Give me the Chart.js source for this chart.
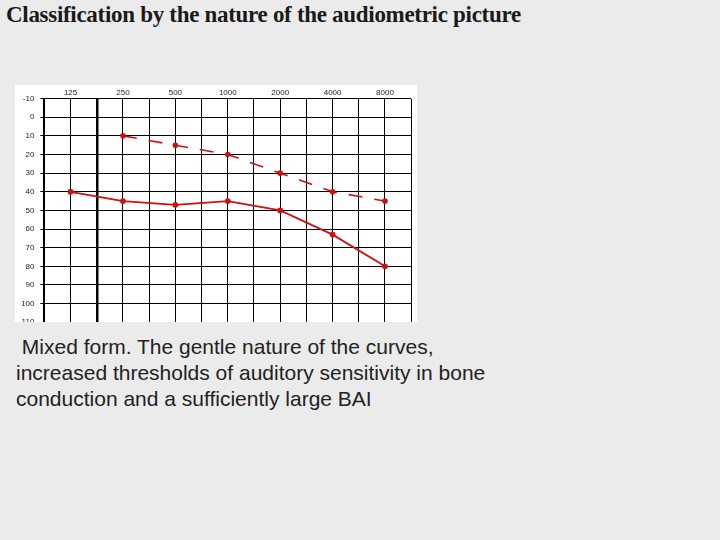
<!DOCTYPE html>
<html><head><meta charset="utf-8">
<script src="https://cdn.jsdelivr.net/npm/chart.js@4/dist/chart.umd.min.js"></script>
<style>
body{margin:0;width:720px;height:540px;background:#ebebeb;position:relative;overflow:hidden}
#t{position:absolute;left:6px;top:2px;font-family:"Liberation Serif",serif;font-weight:bold;font-size:23px;color:#1a1a1a;letter-spacing:-0.3px}
#clip{position:absolute;left:15px;top:85px;width:402px;height:237px;background:#fff;overflow:hidden}
#c{position:absolute;left:0;top:0;width:402px;height:248px}
#p{position:absolute;left:16px;top:334px;font-family:"Liberation Sans",Arial,sans-serif;font-size:21px;color:#222;line-height:26px}
</style></head><body>
<div id="t">Classification by the nature of the audiometric picture</div>
<div id="clip"><div id="c"><canvas id="cv"></canvas></div></div>
<div id="p">&nbsp;Mixed form. The gentle nature of the curves,<br>increased thresholds of auditory sensitivity in bone<br>conduction and a sufficiently large BAI</div>
<script>
const freqs=["125","250","500","1000","2000","4000","8000"];
const airValues=[40,45,47,45,50,63,80];
const boneValues=[null,10,15,20,30,40,45];
const yTicks=[-10,0,10,20,30,40,50,60,70,80,90,100,110];
const pts=a=>a.map((v,i)=>v==null?null:{x:i,y:v}).filter(p=>p);
new Chart(document.getElementById('cv'),{type:'scatter',
data:{datasets:[
{data:pts(airValues),showLine:true,borderColor:'#d01010',backgroundColor:'#d01010',borderWidth:1.8,pointRadius:2,tension:0},
{data:pts(boneValues),showLine:true,borderColor:'#d01010',backgroundColor:'#d01010',borderWidth:1.6,borderDash:[14,12],pointRadius:2,tension:0}]},
options:{responsive:true,maintainAspectRatio:false,animation:false,
layout:{padding:{left:0,right:2,top:2,bottom:0}},
plugins:{legend:{display:false},tooltip:{enabled:false}},
scales:{
x:{type:'linear',position:'top',min:-0.5,max:6.5,
 afterBuildTicks:s=>{s.ticks=[];for(let v=-0.5;v<=6.5;v+=0.5)s.ticks.push({value:v});},
 ticks:{autoSkip:false,maxRotation:0,padding:1,font:{size:8,family:'Liberation Sans'},color:'#222',
  callback:v=>Number.isInteger(v)?freqs[v]:''},
 grid:{color:'#000',lineWidth:c=>c.tick&&c.tick.value===0.5?2.5:1,drawTicks:false},border:{display:false}},
y:{reverse:true,min:-10,max:110,
 afterBuildTicks:s=>{s.ticks=yTicks.map(v=>({value:v}));},
 ticks:{font:{size:8,family:'Liberation Sans'},color:'#222',padding:6},
 grid:{color:'#000',lineWidth:1,drawTicks:true,tickLength:4},border:{color:'#000',width:2}}}}});
</script></body></html>
